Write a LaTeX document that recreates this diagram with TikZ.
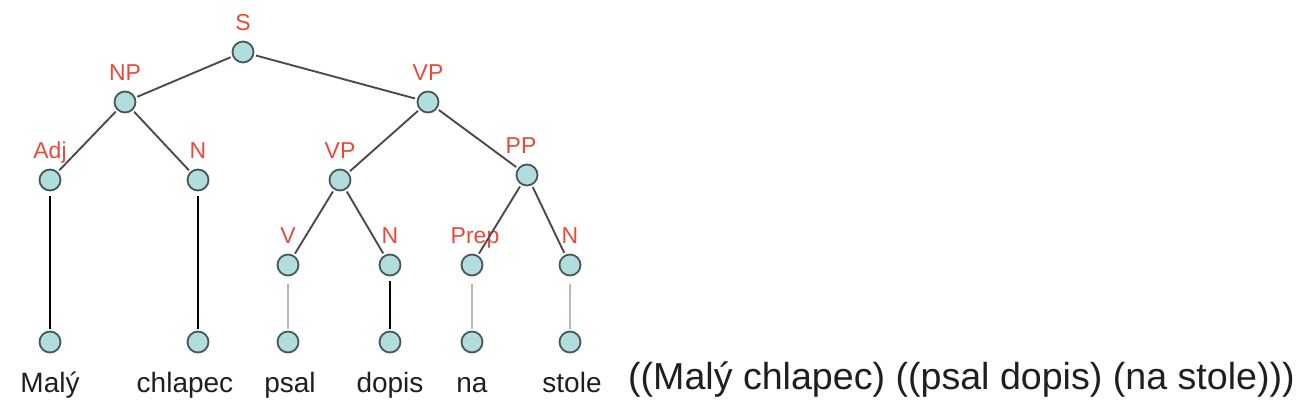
\documentclass[tikz,border=0pt]{standalone}
\usepackage{fontspec}
\setmainfont{Liberation Sans}
\usetikzlibrary{positioning}

\definecolor{nodefill}{RGB}{178,221,222}
\definecolor{nodeline}{RGB}{70,88,88}
\definecolor{catred}{RGB}{232,74,58}
\definecolor{branchgray}{RGB}{75,75,75}
\definecolor{stemgray}{RGB}{185,185,185}

\begin{document}
\begin{tikzpicture}[on grid, node distance=50pt]
                \tikzset{
                    vertex/.style={circle, draw=nodeline, fill=nodefill, line width=1.8pt, minimum size=21pt, inner sep=0pt},
                    cat/.style={text=catred, font=\fontsize{23}{23}\selectfont, inner sep=0pt, text depth=0pt},
                    word/.style={font=\fontsize{28}{28}\selectfont, text=black!88, inner sep=0pt},
                    branch/.style={draw=branchgray, line width=1.9pt, shorten <=2pt, shorten >=2pt},
                    stem/.style={draw=black, line width=2pt, shorten <=5pt, shorten >=2pt},
                    stemlight/.style={draw=stemgray, line width=2.2pt, shorten <=8pt, shorten >=2pt},
                    every label/.style={cat},
                    label distance=10pt
                }
                \useasboundingbox (0pt,0pt) rectangle (1302pt,-414pt);

                % ROOT
                \node[vertex, label=above:S] (s) at (243pt,-52pt) {};

                % PHRASES
                \node[vertex, label=above:NP] (np) [below left=50pt and 118pt of s] {};
                \node[vertex, label=above:VP] (vp) [below right=50pt and 185pt of s] {};
                \node[vertex, label=above:Adj] (adj) [below left=78pt and 75pt of np] {};
                \node[vertex, label=above:N] (n) [below right=78pt and 73pt of np] {};
                \node[vertex, label=above:VP] (vpi) [below left=78pt and 88pt of vp] {};
                \node[vertex, label={[xshift=-6pt]above:PP}] (pp) [below right=73pt and 99pt of vp] {};

                % PRETERMINALS
                \node[vertex, label=above:V] (v) [below left=85pt and 52pt of vpi] {};
                \node[vertex, label=above:N] (nv) [below right=85pt and 50pt of vpi] {};
                \node[vertex, label={[xshift=3pt]above:Prep}] (prep) [below left=90pt and 55pt of pp] {};
                \node[vertex, label=above:N] (npp) [below right=90pt and 43pt of pp] {};

                % LEAVES
                \node[vertex] (lmaly) [below=162pt of adj] {};
                \node[vertex] (lchlapec) [below=162pt of n] {};
                \node[vertex] (lpsal) [below=77pt of v] {};
                \node[vertex] (ldopis) [below=77pt of nv] {};
                \node[vertex] (lna) [below=77pt of prep] {};
                \node[vertex] (lstole) [below=77pt of npp] {};

                % WORDS
                \node[word, below=50pt of lmaly, anchor=base] (wmaly) {Malý};
                \node[word, below=50pt of lchlapec, anchor=base, xshift=-13pt] (wchlapec) {chlapec};
                \node[word, below=50pt of lpsal, anchor=base, xshift=2pt] (wpsal) {psal};
                \node[word, below=50pt of ldopis, anchor=base] (wdopis) {dopis};
                \node[word, below=50pt of lna, anchor=base] (wna) {na};
                \node[word, below=50pt of lstole, anchor=base, xshift=2pt] (wstole) {stole};
                \node[word, font=\fontsize{37.6}{37.6}\selectfont, anchor=base west] (bracket) at (628pt,-389pt) {((Malý chlapec) ((psal dopis) (na stole)))};

                % BRANCHES
                \path[branch]
                    (s) edge (np)
                    (s) edge (vp)
                    (np) edge (adj)
                    (np) edge (n)
                    (vp) edge (vpi)
                    (vp) edge (pp)
                    (vpi) edge (v)
                    (vpi) edge (nv)
                    (pp) edge (prep)
                    (pp) edge (npp);

                \path[stem]
                    (adj) edge (lmaly)
                    (n) edge (lchlapec)
                    (nv) edge (ldopis);

                \path[stemlight]
                    (v) edge (lpsal)
                    (prep) edge (lna)
                    (npp) edge (lstole);

            \end{tikzpicture}
\end{document}
